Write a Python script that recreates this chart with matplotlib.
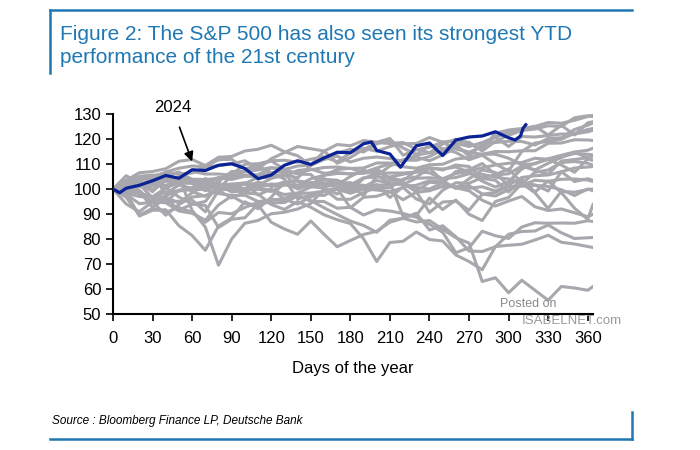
import numpy as np
import matplotlib
matplotlib.use('Agg')
import matplotlib.pyplot as plt
from matplotlib.lines import Line2D

plt.rcParams['font.family'] = ['Liberation Sans', 'DejaVu Sans']

# common day grid for past years (calendar days since Dec 31)
DAYS = [0, 10, 20, 30, 40, 50, 60, 70, 80, 90,
        100, 110, 120, 130, 140, 150, 160, 170, 180, 190,
        200, 210, 220, 230, 240, 250, 260, 270, 280, 290,
        300, 310, 320, 330, 340, 350, 360, 364]

# S&P 500 rebased to 100 at the start of each year
Y2000 = [100, 99.0, 99.0, 92.6, 96.4, 91.6, 93.9, 95.0, 101.5, 102.0,
         102.4, 97.6, 100.0, 96.0, 94.0, 96.8, 99.0, 100.6, 99.0, 100.4,
         101.8, 96.6, 100.9, 101.5, 103.3, 102.8, 100.5, 99.3, 95.5, 93.2,
         95.2, 97.0, 92.9, 91.4, 92.0, 90.5, 88.9, 89.9]
Y2001 = [100, 99.5, 101.7, 104.0, 100.5, 96.8, 94.0, 93.4, 84.6, 87.9,
         88.5, 94.0, 95.9, 95.2, 97.8, 95.0, 95.0, 92.3, 92.7, 89.6,
         91.7, 91.2, 90.2, 88.7, 85.9, 82.7, 74.5, 76.5, 83.1, 81.3,
         80.2, 84.8, 86.5, 86.3, 86.4, 86.3, 87.3, 87.0]
Y2002 = [100, 100.8, 98.2, 97.0, 96.8, 94.4, 98.5, 101.5, 100.3, 99.9,
         98.4, 98.0, 93.8, 91.8, 95.0, 92.7, 89.7, 87.7, 86.2, 80.1,
         71.0, 78.6, 79.1, 82.8, 79.8, 79.2, 73.6, 71.0, 67.7, 77.0,
         77.5, 77.9, 79.6, 81.5, 78.7, 78.0, 77.0, 76.6]
Y2003 = [100, 105.3, 102.4, 95.9, 94.9, 95.1, 95.6, 90.9, 99.4, 96.4,
         98.6, 101.5, 104.2, 106.0, 104.4, 109.5, 111.8, 113.1, 110.8, 112.3,
         112.8, 112.2, 111.0, 113.6, 114.5, 114.8, 117.7, 113.2, 118.0, 118.6,
         119.1, 119.0, 117.6, 120.2, 120.5, 123.8, 125.5, 126.4]
Y2004 = [100, 101.4, 102.4, 101.7, 103.1, 103.0, 103.9, 101.0, 99.7, 101.3,
         102.4, 100.5, 99.5, 97.8, 98.4, 100.8, 102.3, 102.1, 102.6, 100.0,
         99.6, 99.0, 95.7, 98.7, 99.3, 101.0, 100.9, 100.3, 100.9, 99.2,
         101.6, 104.6, 105.3, 105.6, 106.9, 108.4, 108.8, 109.0]
Y2005 = [100, 98.3, 97.0, 96.6, 98.8, 99.2, 99.8, 99.8, 98.2, 97.4,
         97.5, 95.0, 95.4, 96.3, 98.2, 98.4, 99.1, 99.9, 98.3, 100.0,
         101.5, 101.8, 102.0, 100.6, 100.0, 102.4, 100.8, 101.4, 98.0, 97.2,
         99.7, 101.5, 103.5, 103.1, 103.9, 104.0, 103.6, 103.0]
Y2006 = [100, 103.4, 101.0, 103.0, 101.4, 103.2, 103.4, 102.7, 104.6, 103.8,
         105.1, 105.0, 105.0, 105.9, 101.0, 100.9, 100.4, 98.0, 101.8, 101.5,
         100.1, 102.2, 101.8, 104.3, 104.5, 104.1, 106.2, 107.0, 108.5, 109.6,
         110.3, 110.6, 112.3, 111.9, 112.9, 114.2, 113.9, 113.6]
Y2007 = [100, 99.8, 100.8, 101.5, 101.4, 102.9, 98.9, 97.1, 99.4, 100.2,
         102.1, 104.7, 104.5, 105.2, 107.4, 108.0, 106.3, 106.6, 106.0, 106.5,
         108.2, 103.9, 102.5, 99.2, 102.7, 102.3, 107.0, 107.7, 110.2, 105.8,
         108.0, 102.5, 101.6, 99.2, 106.9, 103.0, 104.1, 103.5]
Y2008 = [100, 96.7, 89.5, 92.3, 90.7, 92.6, 90.7, 86.7, 90.6, 90.1,
         92.6, 94.7, 94.4, 94.6, 97.2, 95.4, 92.5, 89.8, 87.2, 85.4,
         82.7, 87.5, 88.3, 86.8, 87.4, 83.9, 80.5, 78.4, 63.0, 64.5,
         58.5, 63.5, 59.5, 55.5, 61.0, 60.4, 59.5, 61.0]
Y2009 = [100, 98.6, 89.2, 91.5, 91.7, 85.3, 81.4, 75.5, 85.2, 88.4,
         94.9, 92.1, 96.7, 102.9, 100.0, 101.8, 104.1, 102.0, 101.8, 97.3,
         105.3, 109.2, 111.5, 111.5, 113.0, 115.6, 118.3, 117.0, 118.6, 120.8,
         117.0, 121.0, 120.8, 121.4, 122.0, 122.0, 122.9, 123.5]
Y2010 = [100, 102.8, 102.1, 96.3, 94.7, 99.5, 100.0, 102.8, 104.0, 104.8,
         107.1, 109.2, 106.5, 104.0, 96.0, 97.7, 97.4, 100.2, 92.5, 96.7,
         97.1, 98.8, 100.6, 96.0, 94.0, 99.5, 102.5, 102.3, 104.6, 105.6,
         106.1, 109.2, 107.5, 105.9, 111.2, 111.8, 112.5, 112.8]
Y2011 = [100, 100.9, 101.8, 101.4, 105.0, 106.8, 103.8, 102.9, 99.9, 105.4,
         105.6, 105.7, 108.4, 107.9, 106.0, 105.8, 101.0, 101.6, 105.0, 107.6,
         105.3, 102.7, 89.0, 89.4, 96.4, 91.8, 95.6, 89.9, 87.4, 95.0,
         96.6, 102.2, 98.5, 92.2, 99.1, 98.7, 99.8, 100.0]
Y2012 = [100, 102.7, 104.6, 104.4, 106.8, 108.3, 109.2, 108.9, 111.7, 111.9,
         108.0, 109.6, 111.2, 107.9, 103.0, 101.6, 105.4, 107.8, 108.3, 106.6,
         108.4, 110.1, 111.7, 112.8, 111.3, 113.6, 116.5, 114.6, 113.9, 113.9,
         112.3, 109.7, 107.6, 110.3, 112.6, 114.7, 112.5, 113.4]
Y2013 = [100, 103.2, 104.1, 105.3, 106.4, 106.0, 106.4, 108.8, 109.3, 110.0,
         111.3, 108.1, 112.1, 114.6, 117.0, 116.1, 115.2, 110.3, 112.6, 115.8,
         118.6, 118.2, 118.6, 115.9, 114.5, 118.0, 119.9, 117.9, 116.1, 122.3,
         123.6, 124.2, 125.0, 126.6, 126.3, 127.5, 129.0, 129.6]
Y2014 = [100, 99.7, 99.5, 94.3, 97.3, 99.5, 100.6, 101.6, 101.3, 101.3,
         99.2, 100.9, 102.0, 101.6, 101.3, 104.1, 105.5, 106.2, 106.1, 106.3,
         107.0, 104.5, 103.3, 107.4, 108.4, 108.0, 108.8, 106.7, 103.1, 100.8,
         103.0, 108.0, 110.3, 111.8, 109.6, 106.7, 112.0, 111.4]
Y2015 = [100, 99.3, 98.2, 96.9, 100.4, 102.5, 102.2, 99.3, 102.4, 100.4,
         102.1, 102.0, 101.3, 102.8, 103.3, 102.3, 102.2, 102.5, 100.2, 100.9,
         103.4, 102.4, 102.2, 98.9, 90.7, 94.8, 95.1, 91.5, 97.9, 98.6,
         101.0, 101.1, 101.5, 101.0, 99.7, 97.4, 100.0, 99.3]
Y2016 = [100, 94.0, 90.9, 94.9, 89.5, 93.8, 96.8, 97.3, 100.2, 100.8,
         100.2, 102.8, 101.0, 101.9, 100.4, 102.6, 102.5, 101.9, 99.5, 104.2,
         106.3, 106.4, 106.4, 106.8, 106.5, 104.1, 104.6, 106.1, 105.9, 104.7,
         104.0, 102.0, 106.7, 107.6, 110.6, 111.0, 110.3, 109.5]
Y2017 = [100, 101.3, 101.5, 101.9, 103.4, 105.0, 107.0, 106.0, 106.0, 105.5,
         105.3, 105.2, 106.5, 107.1, 106.3, 107.7, 108.6, 108.8, 108.2, 108.4,
         110.4, 110.4, 108.9, 108.3, 109.7, 109.9, 112.0, 112.5, 113.9, 115.0,
         114.9, 115.3, 115.3, 118.3, 118.4, 119.7, 119.6, 119.4]
Y2018 = [100, 102.8, 105.1, 105.6, 98.0, 101.6, 100.2, 104.2, 101.6, 98.8,
         99.4, 99.9, 99.0, 101.8, 101.5, 101.9, 103.9, 103.5, 101.6, 104.5,
         104.8, 104.8, 105.9, 106.8, 108.5, 107.6, 109.6, 109.0, 104.2, 103.5,
         98.8, 104.0, 98.8, 103.2, 98.6, 92.3, 87.9, 93.8]
Y2019 = [100, 103.5, 106.5, 107.0, 108.1, 111.1, 111.8, 109.4, 112.7, 113.0,
         115.2, 115.9, 117.5, 114.9, 113.3, 109.5, 115.1, 117.8, 117.3, 119.4,
         118.7, 120.2, 113.5, 115.7, 116.7, 118.8, 119.3, 118.7, 115.2, 119.1,
         121.5, 123.4, 124.0, 125.3, 125.0, 128.5, 129.3, 128.9]
Y2020 = [100, 101.0, 103.1, 99.8, 103.7, 104.8, 91.4, 84.8, 69.5, 80.0,
         86.3, 87.4, 90.1, 90.7, 92.0, 94.2, 100.0, 95.9, 95.9, 98.6,
         100.6, 100.5, 104.0, 104.8, 108.3, 103.3, 100.2, 104.1, 107.6, 106.6,
         101.2, 109.7, 110.1, 112.1, 113.5, 114.8, 115.5, 116.3]
Y2021 = [100, 101.8, 102.6, 98.9, 104.1, 104.0, 103.9, 103.8, 104.2, 105.8,
         109.9, 110.1, 111.3, 111.5, 110.7, 111.9, 112.9, 110.9, 114.4, 116.3,
         115.1, 117.0, 118.1, 118.2, 120.6, 118.7, 116.0, 114.7, 116.9, 120.8,
         122.6, 123.7, 125.1, 121.6, 125.5, 121.6, 126.5, 126.9]
Y2022 = [100, 98.0, 94.1, 94.8, 94.5, 91.2, 90.3, 87.5, 93.6, 97.2,
         94.2, 93.6, 86.7, 84.0, 81.9, 87.2, 81.9, 76.9, 79.4, 81.8,
         83.1, 86.7, 88.3, 90.3, 83.6, 85.3, 80.9, 75.2, 75.0, 76.9,
         81.9, 83.0, 83.2, 85.6, 82.5, 80.2, 80.5, 80.6]
Y2023 = [100, 102.1, 103.5, 104.6, 106.5, 106.2, 102.9, 100.6, 102.9, 107.0,
         107.0, 107.6, 108.6, 107.8, 109.2, 109.5, 112.0, 114.3, 115.9, 114.8,
         118.1, 119.5, 116.4, 113.8, 117.6, 116.1, 114.6, 111.7, 113.5, 110.0,
         107.2, 115.0, 118.4, 119.0, 119.9, 122.3, 123.8, 124.2]

PAST_YEARS = [Y2000, Y2001, Y2002, Y2003, Y2004, Y2005, Y2006, Y2007, Y2008,
              Y2009, Y2010, Y2011, Y2012, Y2013, Y2014, Y2015, Y2016, Y2017,
              Y2018, Y2019, Y2020, Y2021, Y2022, Y2023]

# 2024 year to date
DAYS_2024 = [0, 5, 10, 20, 30, 40, 50, 60, 70, 80, 90, 100, 110, 120, 130,
             140, 150, 160, 170, 180, 190, 196, 200, 210, 218, 230, 240,
             250, 260, 270, 280, 290, 300, 305, 309, 311, 313]
Y2024 = [100, 98.5, 100.3, 101.5, 103.3, 105.4, 104.3, 107.7, 107.4, 109.5,
         110.1, 108.2, 104.1, 105.6, 109.5, 111.3, 109.8, 112.4, 114.7, 114.5,
         118.1, 118.8, 115.4, 114.0, 108.7, 117.3, 118.4, 113.4, 119.6, 120.8,
         121.2, 122.9, 120.5, 119.6, 121.2, 124.3, 125.7]

X_TICKS = list(range(0, 361, 30))
Y_TICKS = list(range(50, 131, 10))

TITLE = 'Figure 2: The S&P 500 has also seen its strongest YTD\nperformance of the 21st century'
SOURCE = 'Source : Bloomberg Finance LP, Deutsche Bank'

GRAY = '#a7a7ad'
NAVY = '#0b2296'
FRAME = '#1f78b4'

fig = plt.figure(figsize=(7, 4.5), dpi=100)
ax = fig.add_axes([113 / 700, 1 - 314 / 450, 480 / 700, 200 / 450])

for vals in PAST_YEARS:
    ax.plot(DAYS, vals, color=GRAY, linewidth=2.2, solid_joinstyle='round')
ax.plot(DAYS_2024, Y2024, color=NAVY, linewidth=2.3, zorder=5)

ax.set_xlim(0, 364)
ax.set_ylim(50, 130)
ax.set_xticks(X_TICKS)
ax.set_yticks(Y_TICKS)
ax.tick_params(axis='both', labelsize=12, length=5, width=1.2, direction='out', colors='black')
ax.tick_params(axis='x', pad=7)
for s in ['top', 'right']:
    ax.spines[s].set_visible(False)
for s in ['left', 'bottom']:
    ax.spines[s].set_linewidth(1.5)
ax.set_xlabel('Days of the year', fontsize=12, labelpad=11)

# 2024 label with arrow
ax.annotate('2024', xy=(60, 111), xytext=(45, 132.5), fontsize=12,
            ha='center', va='center', annotation_clip=False,
            arrowprops=dict(arrowstyle='-|>', color='black', lw=1.2,
                            mutation_scale=14, shrinkA=7, shrinkB=0))

# title box
fig.text(60 / 700, 1 - 46 / 450, TITLE, fontsize=15, color=FRAME, ha='left', va='center',
         linespacing=1.3)
fig.add_artist(Line2D([50 / 700, 632 / 700], [1 - 10 / 450] * 2, color=FRAME, lw=1.8))
fig.add_artist(Line2D([50 / 700] * 2, [1 - 10 / 450, 1 - 73 / 450], color=FRAME, lw=1.8))

# source box
fig.text(52 / 700, 1 - 421 / 450, SOURCE, fontsize=8.5, style='italic', ha='left', va='center')
fig.add_artist(Line2D([50 / 700, 632 / 700], [1 - 439 / 450] * 2, color=FRAME, lw=1.8))
fig.add_artist(Line2D([632 / 700] * 2, [1 - 439 / 450, 1 - 412 / 450], color=FRAME, lw=1.8))

# watermark
fig.text(528 / 700, 1 - 304 / 450, 'Posted on', fontsize=9, color='#8a8a8a', ha='center', va='center')
fig.text(572 / 700, 1 - 321 / 450, 'ISABELNET.com', fontsize=9.5, color='#9a9a9a', ha='center', va='center')

plt.savefig('out.png', dpi=100)
